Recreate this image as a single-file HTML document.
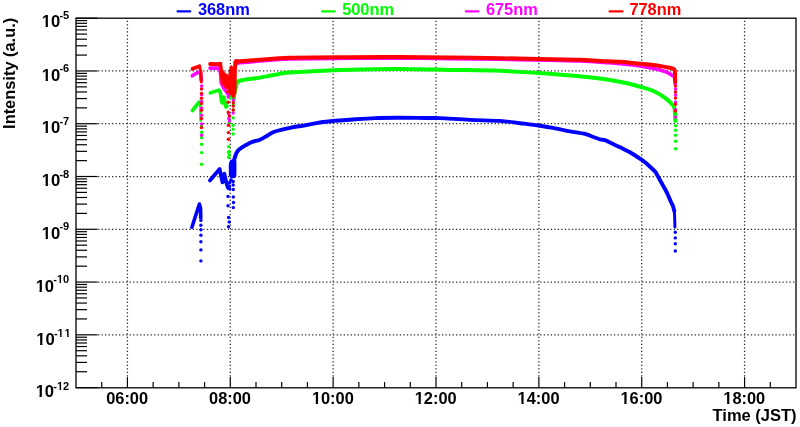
<!DOCTYPE html>
<html><head><meta charset="utf-8"><style>
html,body{margin:0;padding:0;background:#fff;width:800px;height:427px;overflow:hidden}
svg{display:block;will-change:transform}
</style></head><body>
<svg width="800" height="427" viewBox="0 0 800 427">
<rect width="800" height="427" fill="#fff"/>
<line x1="127.43" y1="376.60" x2="127.43" y2="18.20" stroke="#262626" stroke-width="1.25" stroke-dasharray="1.25 2.26" fill="none"/>
<line x1="230.29" y1="376.60" x2="230.29" y2="18.20" stroke="#262626" stroke-width="1.25" stroke-dasharray="1.25 2.26" fill="none"/>
<line x1="333.14" y1="376.60" x2="333.14" y2="18.20" stroke="#262626" stroke-width="1.25" stroke-dasharray="1.25 2.26" fill="none"/>
<line x1="436.00" y1="376.60" x2="436.00" y2="18.20" stroke="#262626" stroke-width="1.25" stroke-dasharray="1.25 2.26" fill="none"/>
<line x1="538.86" y1="376.60" x2="538.86" y2="18.20" stroke="#262626" stroke-width="1.25" stroke-dasharray="1.25 2.26" fill="none"/>
<line x1="641.71" y1="376.60" x2="641.71" y2="18.20" stroke="#262626" stroke-width="1.25" stroke-dasharray="1.25 2.26" fill="none"/>
<line x1="744.57" y1="376.60" x2="744.57" y2="18.20" stroke="#262626" stroke-width="1.25" stroke-dasharray="1.25 2.26" fill="none"/>
<line x1="98.00" y1="70.97" x2="796.00" y2="70.97" stroke="#262626" stroke-width="1.25" stroke-dasharray="1.25 2.26" fill="none"/>
<line x1="98.00" y1="123.74" x2="796.00" y2="123.74" stroke="#262626" stroke-width="1.25" stroke-dasharray="1.25 2.26" fill="none"/>
<line x1="98.00" y1="176.51" x2="796.00" y2="176.51" stroke="#262626" stroke-width="1.25" stroke-dasharray="1.25 2.26" fill="none"/>
<line x1="98.00" y1="229.29" x2="796.00" y2="229.29" stroke="#262626" stroke-width="1.25" stroke-dasharray="1.25 2.26" fill="none"/>
<line x1="98.00" y1="282.06" x2="796.00" y2="282.06" stroke="#262626" stroke-width="1.25" stroke-dasharray="1.25 2.26" fill="none"/>
<line x1="98.00" y1="334.83" x2="796.00" y2="334.83" stroke="#262626" stroke-width="1.25" stroke-dasharray="1.25 2.26" fill="none"/>
<line x1="101.71" y1="387.60" x2="101.71" y2="382.10" stroke="#000" stroke-width="1.2"/>
<line x1="127.43" y1="387.60" x2="127.43" y2="377.10" stroke="#000" stroke-width="1.2"/>
<line x1="153.14" y1="387.60" x2="153.14" y2="382.10" stroke="#000" stroke-width="1.2"/>
<line x1="178.86" y1="387.60" x2="178.86" y2="382.10" stroke="#000" stroke-width="1.2"/>
<line x1="204.57" y1="387.60" x2="204.57" y2="382.10" stroke="#000" stroke-width="1.2"/>
<line x1="230.29" y1="387.60" x2="230.29" y2="377.10" stroke="#000" stroke-width="1.2"/>
<line x1="256.00" y1="387.60" x2="256.00" y2="382.10" stroke="#000" stroke-width="1.2"/>
<line x1="281.71" y1="387.60" x2="281.71" y2="382.10" stroke="#000" stroke-width="1.2"/>
<line x1="307.43" y1="387.60" x2="307.43" y2="382.10" stroke="#000" stroke-width="1.2"/>
<line x1="333.14" y1="387.60" x2="333.14" y2="377.10" stroke="#000" stroke-width="1.2"/>
<line x1="358.86" y1="387.60" x2="358.86" y2="382.10" stroke="#000" stroke-width="1.2"/>
<line x1="384.57" y1="387.60" x2="384.57" y2="382.10" stroke="#000" stroke-width="1.2"/>
<line x1="410.29" y1="387.60" x2="410.29" y2="382.10" stroke="#000" stroke-width="1.2"/>
<line x1="436.00" y1="387.60" x2="436.00" y2="377.10" stroke="#000" stroke-width="1.2"/>
<line x1="461.71" y1="387.60" x2="461.71" y2="382.10" stroke="#000" stroke-width="1.2"/>
<line x1="487.43" y1="387.60" x2="487.43" y2="382.10" stroke="#000" stroke-width="1.2"/>
<line x1="513.14" y1="387.60" x2="513.14" y2="382.10" stroke="#000" stroke-width="1.2"/>
<line x1="538.86" y1="387.60" x2="538.86" y2="377.10" stroke="#000" stroke-width="1.2"/>
<line x1="564.57" y1="387.60" x2="564.57" y2="382.10" stroke="#000" stroke-width="1.2"/>
<line x1="590.29" y1="387.60" x2="590.29" y2="382.10" stroke="#000" stroke-width="1.2"/>
<line x1="616.00" y1="387.60" x2="616.00" y2="382.10" stroke="#000" stroke-width="1.2"/>
<line x1="641.71" y1="387.60" x2="641.71" y2="377.10" stroke="#000" stroke-width="1.2"/>
<line x1="667.43" y1="387.60" x2="667.43" y2="382.10" stroke="#000" stroke-width="1.2"/>
<line x1="693.14" y1="387.60" x2="693.14" y2="382.10" stroke="#000" stroke-width="1.2"/>
<line x1="718.86" y1="387.60" x2="718.86" y2="382.10" stroke="#000" stroke-width="1.2"/>
<line x1="744.57" y1="387.60" x2="744.57" y2="377.10" stroke="#000" stroke-width="1.2"/>
<line x1="770.29" y1="387.60" x2="770.29" y2="382.10" stroke="#000" stroke-width="1.2"/>
<line x1="76.00" y1="387.60" x2="97.50" y2="387.60" stroke="#000" stroke-width="1.2"/>
<line x1="76.00" y1="371.71" x2="87.00" y2="371.71" stroke="#000" stroke-width="1.2"/>
<line x1="76.00" y1="362.42" x2="87.00" y2="362.42" stroke="#000" stroke-width="1.2"/>
<line x1="76.00" y1="355.83" x2="87.00" y2="355.83" stroke="#000" stroke-width="1.2"/>
<line x1="76.00" y1="350.71" x2="87.00" y2="350.71" stroke="#000" stroke-width="1.2"/>
<line x1="76.00" y1="346.54" x2="87.00" y2="346.54" stroke="#000" stroke-width="1.2"/>
<line x1="76.00" y1="343.00" x2="87.00" y2="343.00" stroke="#000" stroke-width="1.2"/>
<line x1="76.00" y1="339.94" x2="87.00" y2="339.94" stroke="#000" stroke-width="1.2"/>
<line x1="76.00" y1="337.24" x2="87.00" y2="337.24" stroke="#000" stroke-width="1.2"/>
<line x1="76.00" y1="334.83" x2="97.50" y2="334.83" stroke="#000" stroke-width="1.2"/>
<line x1="76.00" y1="318.94" x2="87.00" y2="318.94" stroke="#000" stroke-width="1.2"/>
<line x1="76.00" y1="309.65" x2="87.00" y2="309.65" stroke="#000" stroke-width="1.2"/>
<line x1="76.00" y1="303.06" x2="87.00" y2="303.06" stroke="#000" stroke-width="1.2"/>
<line x1="76.00" y1="297.94" x2="87.00" y2="297.94" stroke="#000" stroke-width="1.2"/>
<line x1="76.00" y1="293.76" x2="87.00" y2="293.76" stroke="#000" stroke-width="1.2"/>
<line x1="76.00" y1="290.23" x2="87.00" y2="290.23" stroke="#000" stroke-width="1.2"/>
<line x1="76.00" y1="287.17" x2="87.00" y2="287.17" stroke="#000" stroke-width="1.2"/>
<line x1="76.00" y1="284.47" x2="87.00" y2="284.47" stroke="#000" stroke-width="1.2"/>
<line x1="76.00" y1="282.06" x2="97.50" y2="282.06" stroke="#000" stroke-width="1.2"/>
<line x1="76.00" y1="266.17" x2="87.00" y2="266.17" stroke="#000" stroke-width="1.2"/>
<line x1="76.00" y1="256.88" x2="87.00" y2="256.88" stroke="#000" stroke-width="1.2"/>
<line x1="76.00" y1="250.29" x2="87.00" y2="250.29" stroke="#000" stroke-width="1.2"/>
<line x1="76.00" y1="245.17" x2="87.00" y2="245.17" stroke="#000" stroke-width="1.2"/>
<line x1="76.00" y1="240.99" x2="87.00" y2="240.99" stroke="#000" stroke-width="1.2"/>
<line x1="76.00" y1="237.46" x2="87.00" y2="237.46" stroke="#000" stroke-width="1.2"/>
<line x1="76.00" y1="234.40" x2="87.00" y2="234.40" stroke="#000" stroke-width="1.2"/>
<line x1="76.00" y1="231.70" x2="87.00" y2="231.70" stroke="#000" stroke-width="1.2"/>
<line x1="76.00" y1="229.29" x2="97.50" y2="229.29" stroke="#000" stroke-width="1.2"/>
<line x1="76.00" y1="213.40" x2="87.00" y2="213.40" stroke="#000" stroke-width="1.2"/>
<line x1="76.00" y1="204.11" x2="87.00" y2="204.11" stroke="#000" stroke-width="1.2"/>
<line x1="76.00" y1="197.51" x2="87.00" y2="197.51" stroke="#000" stroke-width="1.2"/>
<line x1="76.00" y1="192.40" x2="87.00" y2="192.40" stroke="#000" stroke-width="1.2"/>
<line x1="76.00" y1="188.22" x2="87.00" y2="188.22" stroke="#000" stroke-width="1.2"/>
<line x1="76.00" y1="184.69" x2="87.00" y2="184.69" stroke="#000" stroke-width="1.2"/>
<line x1="76.00" y1="181.63" x2="87.00" y2="181.63" stroke="#000" stroke-width="1.2"/>
<line x1="76.00" y1="178.93" x2="87.00" y2="178.93" stroke="#000" stroke-width="1.2"/>
<line x1="76.00" y1="176.51" x2="97.50" y2="176.51" stroke="#000" stroke-width="1.2"/>
<line x1="76.00" y1="160.63" x2="87.00" y2="160.63" stroke="#000" stroke-width="1.2"/>
<line x1="76.00" y1="151.34" x2="87.00" y2="151.34" stroke="#000" stroke-width="1.2"/>
<line x1="76.00" y1="144.74" x2="87.00" y2="144.74" stroke="#000" stroke-width="1.2"/>
<line x1="76.00" y1="139.63" x2="87.00" y2="139.63" stroke="#000" stroke-width="1.2"/>
<line x1="76.00" y1="135.45" x2="87.00" y2="135.45" stroke="#000" stroke-width="1.2"/>
<line x1="76.00" y1="131.92" x2="87.00" y2="131.92" stroke="#000" stroke-width="1.2"/>
<line x1="76.00" y1="128.86" x2="87.00" y2="128.86" stroke="#000" stroke-width="1.2"/>
<line x1="76.00" y1="126.16" x2="87.00" y2="126.16" stroke="#000" stroke-width="1.2"/>
<line x1="76.00" y1="123.74" x2="97.50" y2="123.74" stroke="#000" stroke-width="1.2"/>
<line x1="76.00" y1="107.86" x2="87.00" y2="107.86" stroke="#000" stroke-width="1.2"/>
<line x1="76.00" y1="98.56" x2="87.00" y2="98.56" stroke="#000" stroke-width="1.2"/>
<line x1="76.00" y1="91.97" x2="87.00" y2="91.97" stroke="#000" stroke-width="1.2"/>
<line x1="76.00" y1="86.86" x2="87.00" y2="86.86" stroke="#000" stroke-width="1.2"/>
<line x1="76.00" y1="82.68" x2="87.00" y2="82.68" stroke="#000" stroke-width="1.2"/>
<line x1="76.00" y1="79.15" x2="87.00" y2="79.15" stroke="#000" stroke-width="1.2"/>
<line x1="76.00" y1="76.09" x2="87.00" y2="76.09" stroke="#000" stroke-width="1.2"/>
<line x1="76.00" y1="73.39" x2="87.00" y2="73.39" stroke="#000" stroke-width="1.2"/>
<line x1="76.00" y1="70.97" x2="97.50" y2="70.97" stroke="#000" stroke-width="1.2"/>
<line x1="76.00" y1="55.09" x2="87.00" y2="55.09" stroke="#000" stroke-width="1.2"/>
<line x1="76.00" y1="45.79" x2="87.00" y2="45.79" stroke="#000" stroke-width="1.2"/>
<line x1="76.00" y1="39.20" x2="87.00" y2="39.20" stroke="#000" stroke-width="1.2"/>
<line x1="76.00" y1="34.09" x2="87.00" y2="34.09" stroke="#000" stroke-width="1.2"/>
<line x1="76.00" y1="29.91" x2="87.00" y2="29.91" stroke="#000" stroke-width="1.2"/>
<line x1="76.00" y1="26.37" x2="87.00" y2="26.37" stroke="#000" stroke-width="1.2"/>
<line x1="76.00" y1="23.31" x2="87.00" y2="23.31" stroke="#000" stroke-width="1.2"/>
<line x1="76.00" y1="20.61" x2="87.00" y2="20.61" stroke="#000" stroke-width="1.2"/>
<line x1="76.00" y1="18.20" x2="97.50" y2="18.20" stroke="#000" stroke-width="1.2"/>
<rect x="76.00" y="18.20" width="720.00" height="369.60" fill="none" stroke="#000" stroke-width="1.3"/>
<text x="127.13" y="403.8" font-family="Liberation Sans, sans-serif" font-weight="bold" font-size="16.4" text-anchor="middle">06:00</text>
<text x="229.99" y="403.8" font-family="Liberation Sans, sans-serif" font-weight="bold" font-size="16.4" text-anchor="middle">08:00</text>
<text x="332.84" y="403.8" font-family="Liberation Sans, sans-serif" font-weight="bold" font-size="16.4" text-anchor="middle">10:00</text>
<text x="435.70" y="403.8" font-family="Liberation Sans, sans-serif" font-weight="bold" font-size="16.4" text-anchor="middle">12:00</text>
<text x="538.56" y="403.8" font-family="Liberation Sans, sans-serif" font-weight="bold" font-size="16.4" text-anchor="middle">14:00</text>
<text x="641.41" y="403.8" font-family="Liberation Sans, sans-serif" font-weight="bold" font-size="16.4" text-anchor="middle">16:00</text>
<text x="744.27" y="403.8" font-family="Liberation Sans, sans-serif" font-weight="bold" font-size="16.4" text-anchor="middle">18:00</text>
<text x="69.2" y="27.00" font-family="Liberation Sans, sans-serif" font-weight="bold" text-anchor="end"><tspan font-size="16.6">10</tspan><tspan font-size="11" dx="-0.8" dy="-8.20">-5</tspan></text>
<text x="69.2" y="80.70" font-family="Liberation Sans, sans-serif" font-weight="bold" text-anchor="end"><tspan font-size="16.6">10</tspan><tspan font-size="11" dx="-0.8" dy="-8.60">-6</tspan></text>
<text x="69.2" y="133.00" font-family="Liberation Sans, sans-serif" font-weight="bold" text-anchor="end"><tspan font-size="16.6">10</tspan><tspan font-size="11" dx="-0.8" dy="-8.10">-7</tspan></text>
<text x="69.2" y="186.30" font-family="Liberation Sans, sans-serif" font-weight="bold" text-anchor="end"><tspan font-size="16.6">10</tspan><tspan font-size="11" dx="-0.8" dy="-8.20">-8</tspan></text>
<text x="69.2" y="238.70" font-family="Liberation Sans, sans-serif" font-weight="bold" text-anchor="end"><tspan font-size="16.6">10</tspan><tspan font-size="11" dx="-0.8" dy="-8.50">-9</tspan></text>
<text x="69.2" y="291.80" font-family="Liberation Sans, sans-serif" font-weight="bold" text-anchor="end"><tspan font-size="16.6">10</tspan><tspan font-size="11" dx="-0.8" dy="-9.15">-10</tspan></text>
<text x="70.7" y="344.70" font-family="Liberation Sans, sans-serif" font-weight="bold" text-anchor="end"><tspan font-size="16.6">10</tspan><tspan font-size="11" dx="-0.8" dy="-7.90">-1</tspan><tspan font-size="11" dx="1.5">1</tspan></text>
<text x="69.2" y="397.20" font-family="Liberation Sans, sans-serif" font-weight="bold" text-anchor="end"><tspan font-size="16.6">10</tspan><tspan font-size="11" dx="-0.8" dy="-7.40">-12</tspan></text>
<text x="796.6" y="421" font-family="Liberation Sans, sans-serif" font-weight="bold" font-size="16.5" text-anchor="end">Time (JST)</text>
<text transform="translate(15.3,128.9) rotate(-90)" font-family="Liberation Sans, sans-serif" font-weight="bold" font-size="16.4">Intensity (a.u.)</text>
<rect x="312.36" y="401.68" width="3.35" height="3.27" fill="#fff"/>
<rect x="317.96" y="401.68" width="3.05" height="3.27" fill="#fff"/>
<rect x="415.22" y="401.68" width="3.35" height="3.27" fill="#fff"/>
<rect x="420.82" y="401.68" width="3.05" height="3.27" fill="#fff"/>
<rect x="518.08" y="401.68" width="3.35" height="3.27" fill="#fff"/>
<rect x="523.68" y="401.68" width="3.05" height="3.27" fill="#fff"/>
<rect x="620.93" y="401.68" width="3.35" height="3.27" fill="#fff"/>
<rect x="626.53" y="401.68" width="3.05" height="3.27" fill="#fff"/>
<rect x="723.79" y="401.68" width="3.35" height="3.27" fill="#fff"/>
<rect x="729.39" y="401.68" width="3.05" height="3.27" fill="#fff"/>
<rect x="42.24" y="24.86" width="3.39" height="3.29" fill="#fff"/>
<rect x="47.90" y="24.86" width="3.09" height="3.29" fill="#fff"/>
<rect x="42.24" y="78.56" width="3.39" height="3.29" fill="#fff"/>
<rect x="47.90" y="78.56" width="3.09" height="3.29" fill="#fff"/>
<rect x="42.24" y="130.86" width="3.39" height="3.29" fill="#fff"/>
<rect x="47.90" y="130.86" width="3.09" height="3.29" fill="#fff"/>
<rect x="42.24" y="184.16" width="3.39" height="3.29" fill="#fff"/>
<rect x="47.90" y="184.16" width="3.09" height="3.29" fill="#fff"/>
<rect x="42.24" y="236.56" width="3.39" height="3.29" fill="#fff"/>
<rect x="47.90" y="236.56" width="3.09" height="3.29" fill="#fff"/>
<rect x="36.11" y="289.66" width="3.39" height="3.29" fill="#fff"/>
<rect x="41.78" y="289.66" width="3.09" height="3.29" fill="#fff"/>
<rect x="57.27" y="281.08" width="2.25" height="2.72" fill="#fff"/>
<rect x="61.03" y="281.08" width="2.05" height="2.72" fill="#fff"/>
<rect x="36.71" y="342.56" width="3.39" height="3.29" fill="#fff"/>
<rect x="42.37" y="342.56" width="3.09" height="3.29" fill="#fff"/>
<rect x="57.87" y="335.23" width="2.25" height="2.72" fill="#fff"/>
<rect x="61.62" y="335.23" width="2.05" height="2.72" fill="#fff"/>
<rect x="64.90" y="335.23" width="2.25" height="2.72" fill="#fff"/>
<rect x="68.65" y="335.23" width="2.05" height="2.72" fill="#fff"/>
<rect x="36.11" y="395.06" width="3.39" height="3.29" fill="#fff"/>
<rect x="41.78" y="395.06" width="3.09" height="3.29" fill="#fff"/>
<rect x="57.27" y="388.23" width="2.25" height="2.72" fill="#fff"/>
<rect x="61.03" y="388.23" width="2.05" height="2.72" fill="#fff"/>
<line x1="177.6" y1="11.4" x2="190.20000000000002" y2="11.4" stroke="#0000ff" stroke-width="2.2" stroke-linecap="round"/>
<text x="197.9" y="14.8" font-family="Liberation Sans, sans-serif" font-weight="bold" font-size="16.4" fill="#0000ff">368nm</text>
<line x1="322.1" y1="11.4" x2="334.5" y2="11.4" stroke="#00ff00" stroke-width="2.2" stroke-linecap="round"/>
<text x="342.15" y="14.8" font-family="Liberation Sans, sans-serif" font-weight="bold" font-size="16.4" fill="#00ff00">500nm</text>
<line x1="465.85" y1="11.4" x2="478.29999999999995" y2="11.4" stroke="#ff00ff" stroke-width="2.2" stroke-linecap="round"/>
<text x="485.9" y="14.8" font-family="Liberation Sans, sans-serif" font-weight="bold" font-size="16.4" fill="#ff00ff">675nm</text>
<line x1="609.6" y1="11.4" x2="622.4" y2="11.4" stroke="#ff0000" stroke-width="2.2" stroke-linecap="round"/>
<text x="629.4" y="14.8" font-family="Liberation Sans, sans-serif" font-weight="bold" font-size="16.4" fill="#ff0000">778nm</text>
<path d="M191.9,227.2 L199.4,204.0 L200.5,208.0 L200.8,218.0" stroke="#0000ff" stroke-width="3.6" fill="none" stroke-linejoin="round" stroke-linecap="round"/>
<circle cx="200.9" cy="220.4" r="1.7" fill="#0000ff"/>
<circle cx="200.9" cy="225.3" r="1.7" fill="#0000ff"/>
<circle cx="200.9" cy="229.8" r="1.7" fill="#0000ff"/>
<circle cx="200.9" cy="235.2" r="1.7" fill="#0000ff"/>
<circle cx="200.9" cy="241.7" r="1.7" fill="#0000ff"/>
<circle cx="200.9" cy="249.9" r="1.7" fill="#0000ff"/>
<circle cx="200.9" cy="260.9" r="1.7" fill="#0000ff"/>
<path d="M209.9,180.4 L219.6,169.0 L222.5,182.4 L224.3,173.7 L226.6,183.6 L228.0,188.0" stroke="#0000ff" stroke-width="3.8" fill="none" stroke-linejoin="round" stroke-linecap="round"/>
<polygon points="229.6,164.0 231.0,160.5 234.0,159.8 235.6,161.0 235.6,175.0 234.5,177.5 230.8,177.5 229.6,175.0" fill="#0000ff" stroke="#0000ff" stroke-width="1.6" stroke-linejoin="round"/>
<path d="M233.5,162.0 L234.8,157.5" stroke="#0000ff" stroke-width="3.8" fill="none" stroke-linejoin="round" stroke-linecap="round"/>
<path d="M234.80,157.50 C235.08,156.75 235.82,154.30 236.50,153.00 C237.18,151.70 237.98,150.65 238.90,149.70 C239.82,148.75 240.98,147.98 242.00,147.30 C243.02,146.62 243.33,146.48 245.00,145.60 C246.67,144.72 249.50,142.98 252.00,142.00 C254.50,141.02 257.33,140.83 260.00,139.70 C262.67,138.57 265.50,136.57 268.00,135.20 C270.50,133.83 271.33,132.73 275.00,131.50 C278.67,130.27 285.00,128.83 290.00,127.80 C295.00,126.77 300.00,126.18 305.00,125.30 C310.00,124.42 315.00,123.25 320.00,122.50 C325.00,121.75 330.00,121.27 335.00,120.80 C340.00,120.33 343.33,120.15 350.00,119.70 C356.67,119.25 366.67,118.42 375.00,118.10 C383.33,117.78 391.67,117.82 400.00,117.80 C408.33,117.78 418.33,117.95 425.00,118.00 C431.67,118.05 432.50,117.78 440.00,118.10 C447.50,118.42 460.00,119.43 470.00,119.90 C480.00,120.37 491.67,120.35 500.00,120.90 C508.33,121.45 513.33,122.40 520.00,123.20 C526.67,124.00 534.17,124.85 540.00,125.70 C545.83,126.55 550.00,127.37 555.00,128.30 C560.00,129.23 565.00,130.37 570.00,131.30 C575.00,132.23 581.33,133.03 585.00,133.90 C588.67,134.77 589.50,135.60 592.00,136.50 C594.50,137.40 597.83,138.70 600.00,139.30 C602.17,139.90 603.33,139.55 605.00,140.10 C606.67,140.65 607.50,141.40 610.00,142.60 C612.50,143.80 616.67,145.70 620.00,147.30 C623.33,148.90 626.42,150.15 630.00,152.20 C633.58,154.25 639.00,157.92 641.50,159.60 C644.00,161.28 643.58,161.10 645.00,162.30 C646.42,163.50 648.33,165.25 650.00,166.80 C651.67,168.35 653.67,169.98 655.00,171.60 C656.33,173.22 657.00,174.77 658.00,176.50 C659.00,178.23 659.83,179.92 661.00,182.00 C662.17,184.08 663.83,186.83 665.00,189.00 C666.17,191.17 667.00,192.83 668.00,195.00 C669.00,197.17 670.17,200.13 671.00,202.00 C671.83,203.87 672.45,204.70 673.00,206.20 C673.55,207.70 674.08,210.20 674.30,211.00" stroke="#0000ff" stroke-width="3.9" fill="none" stroke-linejoin="round" stroke-linecap="round"/>
<path d="M674.3,211.0 L674.7,218.0 L674.9,227.0" stroke="#0000ff" stroke-width="3.0" fill="none" stroke-linejoin="round" stroke-linecap="round"/>
<circle cx="675.3" cy="232.3" r="1.7" fill="#0000ff"/>
<circle cx="675.3" cy="237.9" r="1.7" fill="#0000ff"/>
<circle cx="675.3" cy="243.7" r="1.7" fill="#0000ff"/>
<circle cx="675.3" cy="251.0" r="1.7" fill="#0000ff"/>
<circle cx="229.5" cy="183.0" r="1.7" fill="#0000ff"/>
<circle cx="233.2" cy="181.5" r="1.7" fill="#0000ff"/>
<circle cx="229.5" cy="186.5" r="1.7" fill="#0000ff"/>
<circle cx="233.2" cy="185.0" r="1.7" fill="#0000ff"/>
<circle cx="229.8" cy="189.1" r="1.7" fill="#0000ff"/>
<circle cx="233.3" cy="189.5" r="1.7" fill="#0000ff"/>
<circle cx="228.0" cy="196.4" r="1.7" fill="#0000ff"/>
<circle cx="233.3" cy="197.0" r="1.7" fill="#0000ff"/>
<circle cx="233.5" cy="202.5" r="1.7" fill="#0000ff"/>
<circle cx="228.0" cy="205.7" r="1.7" fill="#0000ff"/>
<circle cx="233.3" cy="207.6" r="1.7" fill="#0000ff"/>
<circle cx="228.6" cy="217.5" r="1.7" fill="#0000ff"/>
<circle cx="229.3" cy="222.0" r="1.7" fill="#0000ff"/>
<circle cx="228.6" cy="226.7" r="1.7" fill="#0000ff"/>
<circle cx="231.0" cy="180.0" r="1.7" fill="#0000ff"/>
<circle cx="233.0" cy="176.0" r="1.7" fill="#0000ff"/>
<circle cx="230.0" cy="182.0" r="1.7" fill="#0000ff"/>
<circle cx="234.5" cy="170.0" r="1.7" fill="#0000ff"/>
<path d="M192.4,110.6 L199.2,101.8" stroke="#00ff00" stroke-width="3.6" fill="none" stroke-linejoin="round" stroke-linecap="round"/>
<path d="M199.6,102.3 L200.4,106.0 L200.6,120.5" stroke="#00ff00" stroke-width="2.6" fill="none" stroke-linejoin="round" stroke-linecap="round"/>
<circle cx="201.6" cy="126.5" r="1.7" fill="#00ff00"/>
<circle cx="201.6" cy="132.3" r="1.7" fill="#00ff00"/>
<circle cx="201.6" cy="137.8" r="1.7" fill="#00ff00"/>
<circle cx="201.6" cy="144.3" r="1.7" fill="#00ff00"/>
<circle cx="201.6" cy="152.6" r="1.7" fill="#00ff00"/>
<circle cx="201.6" cy="164.3" r="1.7" fill="#00ff00"/>
<path d="M210.3,92.9 L219.0,90.1 L220.2,92.0 L221.6,101.4 L222.3,103.0 L224.0,97.2 L225.8,107.0 L227.0,106.0" stroke="#00ff00" stroke-width="3.6" fill="none" stroke-linejoin="round" stroke-linecap="round"/>
<circle cx="229.0" cy="122.8" r="1.7" fill="#00ff00"/>
<circle cx="228.6" cy="146.6" r="1.7" fill="#00ff00"/>
<circle cx="228.6" cy="152.3" r="1.7" fill="#00ff00"/>
<circle cx="228.6" cy="157.2" r="1.7" fill="#00ff00"/>
<circle cx="233.1" cy="117.9" r="1.7" fill="#00ff00"/>
<circle cx="233.1" cy="125.2" r="1.7" fill="#00ff00"/>
<circle cx="233.1" cy="129.3" r="1.7" fill="#00ff00"/>
<circle cx="233.1" cy="134.0" r="1.7" fill="#00ff00"/>
<circle cx="229.2" cy="151.5" r="1.7" fill="#00ff00"/>
<circle cx="229.4" cy="155.0" r="1.7" fill="#00ff00"/>
<circle cx="230.0" cy="98.0" r="1.7" fill="#00ff00"/>
<circle cx="231.0" cy="96.0" r="1.7" fill="#00ff00"/>
<circle cx="233.3" cy="105.0" r="1.7" fill="#00ff00"/>
<circle cx="233.3" cy="110.0" r="1.7" fill="#00ff00"/>
<path d="M233.60,100.00 C233.75,98.83 234.15,95.00 234.50,93.00 C234.85,91.00 235.28,89.67 235.70,88.00 C236.12,86.33 236.28,84.22 237.00,83.00 C237.72,81.78 236.17,81.60 240.00,80.70 C243.83,79.80 254.17,78.58 260.00,77.60 C265.83,76.62 270.00,75.63 275.00,74.80 C280.00,73.97 277.50,73.43 290.00,72.60 C302.50,71.77 331.67,70.38 350.00,69.80 C368.33,69.22 383.33,69.08 400.00,69.10 C416.67,69.12 433.33,69.62 450.00,69.90 C466.67,70.18 483.33,70.15 500.00,70.80 C516.67,71.45 533.33,72.50 550.00,73.80 C566.67,75.10 587.50,77.10 600.00,78.60 C612.50,80.10 618.00,81.35 625.00,82.80 C632.00,84.25 637.00,85.80 642.00,87.30 C647.00,88.80 651.17,90.03 655.00,91.80 C658.83,93.57 662.17,95.83 665.00,97.90 C667.83,99.97 670.42,102.45 672.00,104.20 C673.58,105.95 673.95,105.60 674.50,108.40 C675.05,111.20 675.17,118.90 675.30,121.00" stroke="#00ff00" stroke-width="4.0" fill="none" stroke-linejoin="round" stroke-linecap="round"/>
<circle cx="675.6" cy="125.7" r="1.7" fill="#00ff00"/>
<circle cx="675.6" cy="130.2" r="1.7" fill="#00ff00"/>
<circle cx="675.6" cy="135.3" r="1.7" fill="#00ff00"/>
<circle cx="675.6" cy="141.3" r="1.7" fill="#00ff00"/>
<circle cx="675.6" cy="148.8" r="1.7" fill="#00ff00"/>
<path d="M192.3,75.8 L198.0,72.2 L200.6,73.0 L201.2,80.0" stroke="#ff00ff" stroke-width="3.6" fill="none" stroke-linejoin="round" stroke-linecap="round"/>
<circle cx="201.6" cy="86.0" r="1.7" fill="#ff00ff"/>
<circle cx="201.6" cy="94.7" r="1.7" fill="#ff00ff"/>
<circle cx="201.6" cy="101.5" r="1.7" fill="#ff00ff"/>
<circle cx="201.6" cy="108.1" r="1.7" fill="#ff00ff"/>
<circle cx="201.6" cy="115.2" r="1.7" fill="#ff00ff"/>
<circle cx="201.6" cy="124.0" r="1.7" fill="#ff00ff"/>
<circle cx="201.6" cy="135.2" r="1.7" fill="#ff00ff"/>
<path d="M210.0,68.1 L219.8,68.0 L220.8,76.0 L221.3,83.0 L224.0,88.5 L227.0,92.5 L228.5,95.0" stroke="#ff00ff" stroke-width="3.6" fill="none" stroke-linejoin="round" stroke-linecap="round"/>
<circle cx="228.6" cy="113.8" r="1.7" fill="#ff00ff"/>
<circle cx="229.5" cy="121.1" r="1.7" fill="#ff00ff"/>
<circle cx="233.1" cy="113.0" r="1.7" fill="#ff00ff"/>
<circle cx="228.2" cy="97.0" r="1.7" fill="#ff00ff"/>
<circle cx="233.3" cy="92.0" r="1.7" fill="#ff00ff"/>
<circle cx="233.3" cy="100.0" r="1.7" fill="#ff00ff"/>
<circle cx="228.8" cy="118.5" r="1.7" fill="#ff00ff"/>
<path d="M235.50,66.00 C235.67,65.58 235.75,64.03 236.50,63.50 C237.25,62.97 236.08,63.22 240.00,62.80 C243.92,62.38 251.67,61.65 260.00,61.00 C268.33,60.35 275.00,59.35 290.00,58.90 C305.00,58.45 331.67,58.43 350.00,58.30 C368.33,58.17 383.33,58.05 400.00,58.10 C416.67,58.15 433.33,58.40 450.00,58.60 C466.67,58.80 483.33,59.03 500.00,59.30 C516.67,59.57 536.67,59.93 550.00,60.20 C563.33,60.47 571.67,60.55 580.00,60.90 C588.33,61.25 593.33,61.85 600.00,62.30 C606.67,62.75 614.17,63.12 620.00,63.60 C625.83,64.08 630.00,64.50 635.00,65.20 C640.00,65.90 645.00,66.75 650.00,67.80 C655.00,68.85 661.33,70.27 665.00,71.50 C668.67,72.73 670.37,74.12 672.00,75.20 C673.63,76.28 674.27,76.53 674.80,78.00 C675.33,79.47 675.13,83.00 675.20,84.00" stroke="#ff00ff" stroke-width="3.6" fill="none" stroke-linejoin="round" stroke-linecap="round"/>
<circle cx="675.5" cy="89.0" r="1.7" fill="#ff00ff"/>
<circle cx="675.5" cy="95.0" r="1.7" fill="#ff00ff"/>
<circle cx="675.5" cy="102.0" r="1.7" fill="#ff00ff"/>
<circle cx="675.5" cy="109.6" r="1.7" fill="#ff00ff"/>
<circle cx="675.5" cy="117.1" r="1.7" fill="#ff00ff"/>
<path d="M192.4,68.8 L199.4,66.2" stroke="#ff0000" stroke-width="3.6" fill="none" stroke-linejoin="round" stroke-linecap="round"/>
<path d="M199.4,66.2 L200.9,72.0 L201.3,82.0" stroke="#ff0000" stroke-width="3.0" fill="none" stroke-linejoin="round" stroke-linecap="round"/>
<circle cx="201.5" cy="89.0" r="1.7" fill="#ff0000"/>
<circle cx="201.5" cy="93.5" r="1.7" fill="#ff0000"/>
<circle cx="201.5" cy="98.2" r="1.7" fill="#ff0000"/>
<circle cx="201.5" cy="103.4" r="1.7" fill="#ff0000"/>
<circle cx="201.5" cy="110.2" r="1.7" fill="#ff0000"/>
<circle cx="201.5" cy="118.5" r="1.7" fill="#ff0000"/>
<circle cx="201.5" cy="127.6" r="1.7" fill="#ff0000"/>
<path d="M210.2,64.1 L219.8,64.2" stroke="#ff0000" stroke-width="4.0" fill="none" stroke-linejoin="round" stroke-linecap="round"/>
<polygon points="219.5,62.6 221.3,62.8 222.2,70.0 224.0,72.5 226.5,74.5 228.2,76.0 228.6,88.0 226.5,88.5 224.0,85.5 221.5,83.0 220.4,72.0" fill="#ff0000" stroke="#ff0000" stroke-width="1.6" stroke-linejoin="round"/>
<polygon points="228.6,88.0 229.2,74.0 230.3,67.5 231.4,66.0 232.4,67.5 232.9,69.0 233.8,68.0 234.4,62.0 235.2,60.0 237.5,59.8 237.5,63.6 236.2,64.3 235.6,93.0 233.5,96.0 229.0,93.0" fill="#ff0000" stroke="#ff0000" stroke-width="1.6" stroke-linejoin="round"/>
<path d="M235.50,62.50 C235.67,62.33 235.75,61.72 236.50,61.50 C237.25,61.28 236.08,61.50 240.00,61.20 C243.92,60.90 251.67,60.27 260.00,59.70 C268.33,59.13 275.00,58.22 290.00,57.80 C305.00,57.38 331.67,57.33 350.00,57.20 C368.33,57.07 383.33,56.95 400.00,57.00 C416.67,57.05 433.33,57.30 450.00,57.50 C466.67,57.70 483.33,57.90 500.00,58.20 C516.67,58.50 536.67,59.03 550.00,59.30 C563.33,59.57 571.67,59.53 580.00,59.80 C588.33,60.07 593.33,60.57 600.00,60.90 C606.67,61.23 614.17,61.42 620.00,61.80 C625.83,62.18 630.00,62.73 635.00,63.20 C640.00,63.67 645.00,63.98 650.00,64.60 C655.00,65.22 661.17,66.23 665.00,66.90 C668.83,67.57 671.37,67.92 673.00,68.60 C674.63,69.28 674.43,68.77 674.80,71.00 C675.17,73.23 675.13,80.17 675.20,82.00" stroke="#ff0000" stroke-width="4.0" fill="none" stroke-linejoin="round" stroke-linecap="round"/>
<circle cx="228.2" cy="102.3" r="1.7" fill="#ff0000"/>
<circle cx="228.2" cy="112.1" r="1.7" fill="#ff0000"/>
<circle cx="228.5" cy="125.2" r="1.7" fill="#ff0000"/>
<circle cx="228.4" cy="132.6" r="1.7" fill="#ff0000"/>
<circle cx="228.4" cy="139.2" r="1.7" fill="#ff0000"/>
<circle cx="233.3" cy="87.4" r="1.7" fill="#ff0000"/>
<circle cx="233.3" cy="96.3" r="1.7" fill="#ff0000"/>
<circle cx="233.3" cy="102.8" r="1.7" fill="#ff0000"/>
<circle cx="233.3" cy="106.1" r="1.7" fill="#ff0000"/>
<circle cx="233.3" cy="109.9" r="1.7" fill="#ff0000"/>
<circle cx="229.5" cy="116.0" r="1.7" fill="#ff0000"/>
<circle cx="228.0" cy="91.5" r="1.7" fill="#ff0000"/>
<circle cx="675.5" cy="86.0" r="1.7" fill="#ff0000"/>
<circle cx="675.5" cy="92.0" r="1.7" fill="#ff0000"/>
<circle cx="675.5" cy="98.0" r="1.7" fill="#ff0000"/>
<circle cx="675.5" cy="104.2" r="1.7" fill="#ff0000"/>
<circle cx="675.5" cy="111.0" r="1.7" fill="#ff0000"/>
</svg></body></html>
